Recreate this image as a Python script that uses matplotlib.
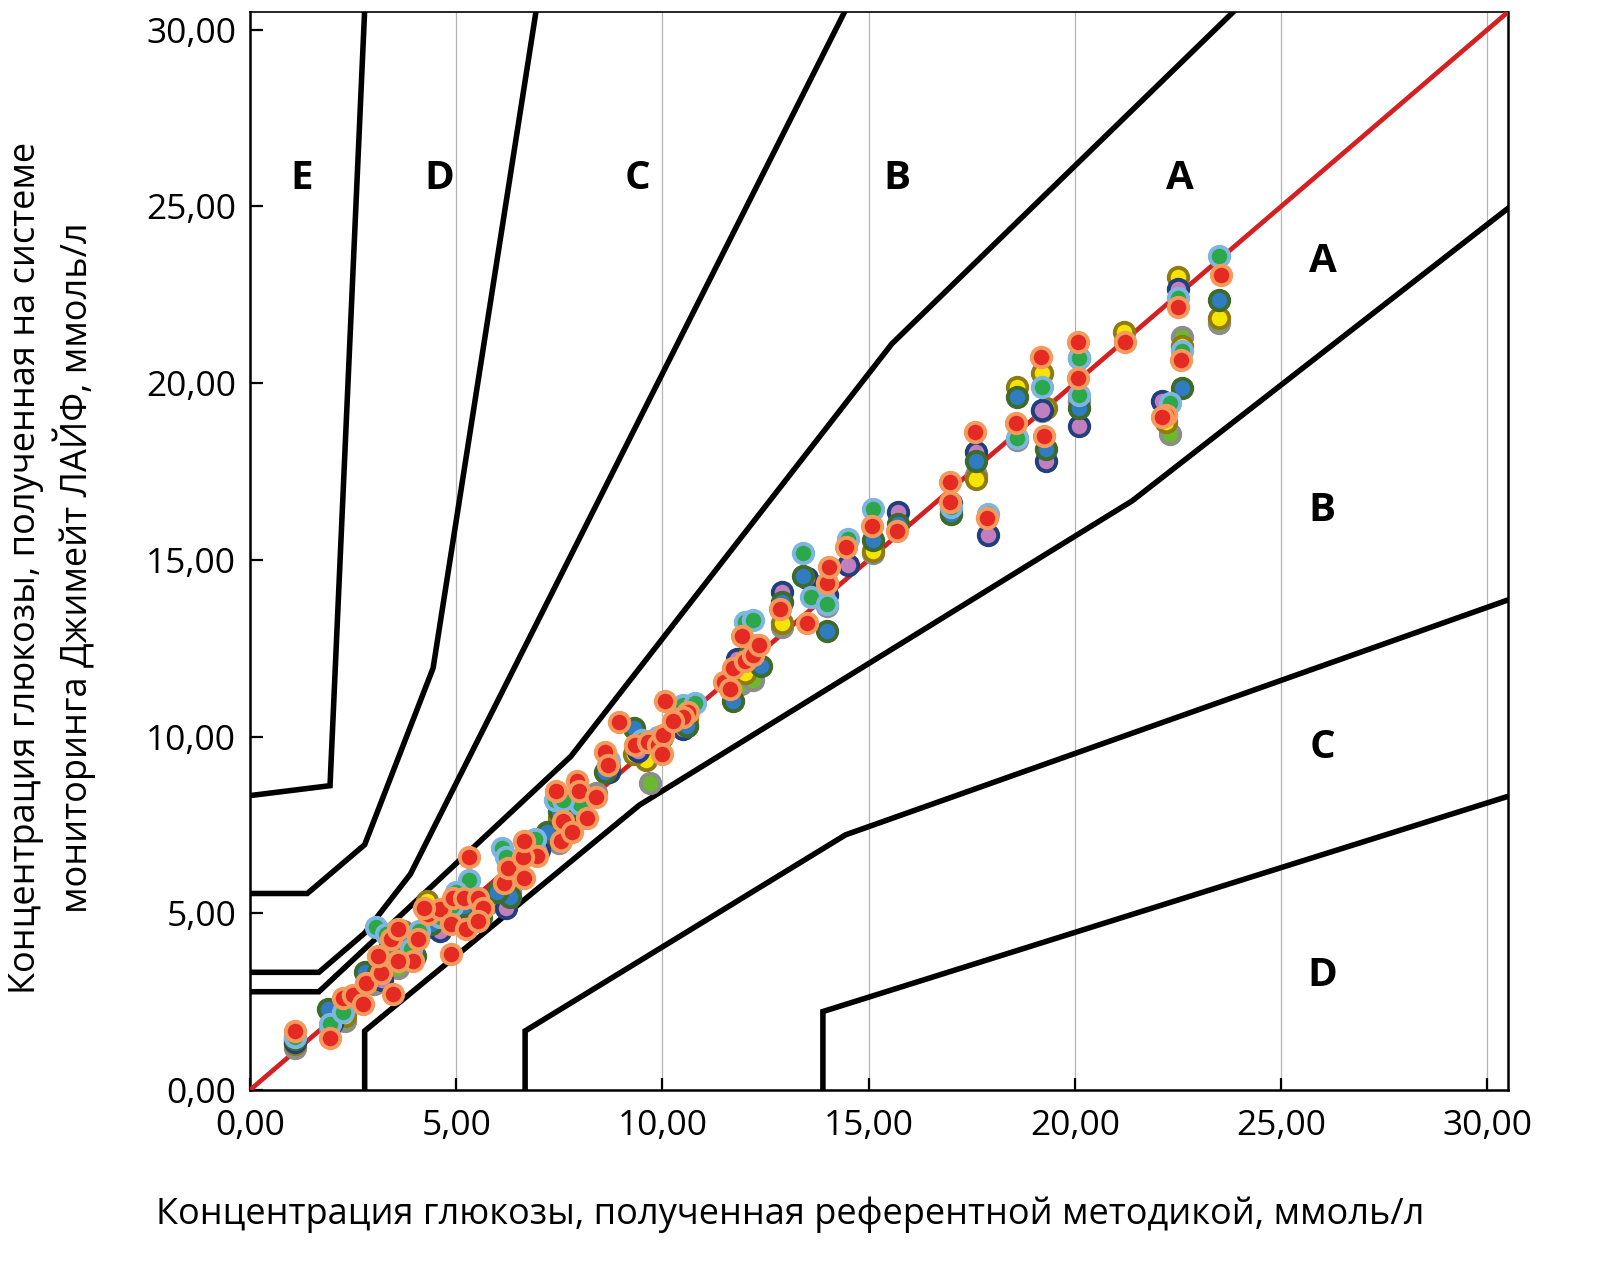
import matplotlib
matplotlib.use("Agg")
import matplotlib.pyplot as plt

plt.rcParams["font.family"] = ["Open Sans", "DejaVu Sans"]

# Parkes error grid boundaries (type 1), mmol/l
ab_upper_x = [0, 1.67, 7.78, 15.56, 23.89]
ab_upper_y = [2.78, 2.78, 9.44, 21.11, 30.56]
bc_upper_x = [0, 1.67, 2.78, 3.89, 14.44]
bc_upper_y = [3.33, 3.33, 4.44, 6.11, 30.56]
cd_upper_x = [0, 1.39, 2.78, 4.44, 6.94]
cd_upper_y = [5.56, 5.56, 6.94, 11.94, 30.56]
de_upper_x = [0, 1.94, 2.78]
de_upper_y = [8.33, 8.61, 30.56]
ab_lower_x = [2.78, 2.78, 9.44, 21.39, 30.56]
ab_lower_y = [0, 1.67, 8.06, 16.67, 25.0]
bc_lower_x = [6.67, 6.67, 14.44, 30.56]
bc_lower_y = [0, 1.67, 7.22, 13.89]
cd_lower_x = [13.89, 13.89, 30.56]
cd_lower_y = [0, 2.22, 8.33]

# measured points, one list pair per series
lg_x = [1.1, 1.95, 2.3, 3.0, 3.6, 4.4, 5.2, 6.3, 6.9, 7.5, 8.4, 9.7, 10.6, 11.9, 12.9, 14.0,
        15.1, 17.0, 17.6, 18.6, 19.2, 20.1, 22.3, 22.6, 23.5, 3.4, 5.8, 7.9, 12.2]
lg_y = [1.2, 1.75, 1.95, 3.0, 3.45, 4.6, 4.9, 5.6, 6.8, 7.0, 8.4, 8.7, 10.3, 11.5, 13.1, 13.7,
        15.2, 16.3, 17.4, 18.4, 19.2, 19.5, 18.55, 21.3, 21.7, 3.9, 5.3, 7.6, 11.6]

ye_x = [1.1, 2.3, 3.1, 4.3, 5.0, 6.3, 7.0, 7.5, 8.7, 9.6, 10.6, 12.0, 12.9, 13.9, 15.1, 17.0,
        17.6, 18.6, 19.2, 19.3, 20.1, 21.2, 22.2, 22.5, 22.6, 23.5, 3.7, 9.3]
ye_y = [1.3, 2.1, 3.5, 5.35, 5.1, 6.0, 6.9, 7.7, 9.2, 9.35, 10.5, 11.8, 13.2, 14.1, 15.25, 16.4,
        17.3, 19.9, 20.3, 19.3, 20.7, 21.45, 18.9, 23.0, 21.05, 21.85, 4.5, 9.5]

pu_x = [1.1, 2.0, 3.2, 3.9, 4.6, 5.3, 6.2, 7.0, 7.8, 9.4, 10.5, 11.8, 12.9, 13.5, 14.0, 14.5,
        15.7, 17.0, 17.6, 17.9, 19.2, 19.3, 20.1, 22.1, 22.5, 8.7, 12.1, 3.5]
pu_y = [1.35, 1.9, 3.1, 3.7, 4.5, 4.8, 5.15, 6.8, 7.9, 9.6, 10.2, 12.2, 14.1, 14.5, 14.0, 14.85,
        16.35, 16.6, 18.05, 15.7, 19.25, 17.8, 18.8, 19.5, 22.65, 9.0, 12.4, 4.0]

bl_x = [1.1, 1.9, 2.8, 3.1, 3.4, 4.0, 4.8, 5.6, 6.3, 6.8, 7.2, 7.9, 8.6, 9.3, 10.0, 10.6, 11.7,
        12.1, 12.4, 13.4, 14.0, 15.1, 15.7, 17.0, 17.6, 18.6, 19.3, 20.1, 22.6, 23.5,
        3.7, 4.4, 5.2, 6.0, 7.5, 9.8, 12.9]
bl_y = [1.45, 2.3, 3.35, 3.3, 4.1, 3.8, 5.0, 4.9, 5.45, 6.9, 7.3, 8.0, 9.0, 10.25, 10.0, 10.3, 11.0,
        12.3, 12.0, 14.55, 13.0, 15.55, 16.0, 16.3, 17.8, 19.6, 18.15, 19.3, 19.85, 22.35,
        4.4, 4.7, 5.2, 5.6, 7.9, 9.9, 13.8]

gr_x = [1.1, 1.95, 2.25, 3.05, 3.5, 4.1, 4.9, 5.3, 6.1, 6.9, 7.4, 8.0, 8.7, 9.5, 10.5, 10.8, 12.0,
        12.2, 13.4, 13.6, 14.0, 14.5, 15.1, 17.0, 17.9, 18.6, 19.2, 20.1, 20.1, 22.3, 22.5, 22.6, 23.5,
        3.3, 3.9, 4.6, 5.0, 5.5, 6.2, 7.6, 9.9, 10.3, 12.3]
gr_y = [1.5, 1.86, 2.2, 4.6, 3.9, 4.5, 5.2, 5.95, 6.85, 7.1, 8.2, 8.1, 9.3, 9.9, 10.9, 10.95, 13.25,
        13.3, 15.2, 13.95, 13.75, 15.6, 16.45, 16.5, 16.3, 18.45, 19.9, 20.7, 19.65, 19.45, 22.4, 20.9, 23.6,
        4.4, 4.0, 4.9, 5.6, 5.4, 6.6, 8.2, 10.0, 10.5, 12.6]

rd_x = [1.1, 1.93, 2.26, 2.5, 2.74, 2.82, 3.18, 3.1, 3.46, 3.43, 3.59, 4.07, 3.95, 3.59, 4.31, 4.6,
        4.23, 4.92, 5.2, 5.52, 5.64, 4.88, 5.24, 5.52, 4.88, 5.3, 6.17, 6.25, 6.65, 6.97, 6.61, 6.65,
        7.42, 7.94, 7.98, 8.38, 8.18, 7.58, 7.54, 7.8, 8.6, 8.68, 8.95, 9.33, 9.65, 9.9, 10.02, 9.98,
        10.06, 10.62, 10.5, 10.25, 11.48, 11.64, 11.71, 12.0, 11.93, 12.2, 12.35, 12.86, 13.5, 13.99,
        14.03, 14.46, 15.08, 15.69, 16.98, 16.98, 17.58, 17.86, 18.56, 19.18, 19.26, 20.08, 20.08,
        21.21, 22.2, 22.1, 22.5, 22.58, 23.55]
rd_y = [1.67, 1.48, 2.61, 2.7, 2.42, 3.04, 3.32, 3.79, 2.71, 4.26, 4.55, 4.26, 3.65, 3.65, 4.97, 5.11,
        5.16, 5.44, 5.44, 5.44, 5.16, 4.69, 4.55, 4.78, 3.84, 6.58, 5.87, 6.29, 6.0, 6.62, 6.58, 7.05,
        8.45, 8.75, 8.45, 8.3, 7.7, 7.6, 7.05, 7.3, 9.55, 9.2, 10.4, 9.75, 9.85, 9.75, 10.05, 9.5,
        11.0, 10.7, 10.55, 10.45, 11.55, 11.35, 11.95, 12.15, 12.85, 12.3, 12.6, 13.6, 13.2, 14.35,
        14.8, 15.35, 15.96, 15.82, 16.65, 17.2, 18.63, 16.18, 18.87, 20.75, 18.49, 21.15, 20.15,
        21.15, 19.1, 19.05, 22.15, 20.65, 23.05]

zone_top = ["E", "D", "C", "B", "A"]
zone_top_x = [1.26, 4.6, 9.39, 15.68, 22.55]
zone_right = ["A", "B", "C", "D"]
zone_right_y = [23.45, 16.4, 9.7, 3.25]

fig = plt.figure(figsize=(15.97, 12.66), dpi=100)
ax = fig.add_axes([250 / 1597, 1 - 1090 / 1266, 1258 / 1597, 1078 / 1266])

lim = 30.5
ax.set_xlim(0, lim)
ax.set_ylim(0, lim)

for gx in [5, 10, 15, 20, 25, 30]:
    ax.axvline(gx, color="#b4b4b4", lw=0.9, zorder=0)

for bx, by in [(ab_upper_x, ab_upper_y), (bc_upper_x, bc_upper_y), (cd_upper_x, cd_upper_y),
               (de_upper_x, de_upper_y), (ab_lower_x, ab_lower_y), (bc_lower_x, bc_lower_y),
               (cd_lower_x, cd_lower_y)]:
    ax.plot(bx, by, color="black", lw=4.0, solid_joinstyle="miter", zorder=2)

ax.plot([0, lim], [0, lim], color="#d42020", lw=3.4, zorder=3)

series = [
    (lg_x, lg_y, "#6cb92f", "#8c8c8c"),
    (ye_x, ye_y, "#f6e300", "#8e7b12"),
    (pu_x, pu_y, "#c27fbf", "#203f7e"),
    (bl_x, bl_y, "#2f7cc0", "#3e6a2a"),
    (gr_x, gr_y, "#2aa84a", "#7fb5e1"),
    (rd_x, rd_y, "#e42a22", "#f49a5c"),
]
for i, (sx, sy, face, edge) in enumerate(series):
    ax.plot(sx, sy, "o", ms=14.0, mfc=face, mec=edge, mew=2.8, ls="none", zorder=4 + i)

for lab, zx in zip(zone_top, zone_top_x):
    ax.text(zx, 25.8, lab, fontsize=29, fontweight="bold", ha="center", va="center")
for lab, zy in zip(zone_right, zone_right_y):
    ax.text(26.0, zy, lab, fontsize=29, fontweight="bold", ha="center", va="center")

ticks = [0, 5, 10, 15, 20, 25, 30]
tick_labels = [f"{t:.2f}".replace(".", ",") for t in ticks]
ax.set_xticks(ticks)
ax.set_xticklabels(tick_labels)
ax.set_yticks(ticks)
ax.set_yticklabels(tick_labels)
ax.tick_params(axis="both", direction="in", length=9, width=1.6, labelsize=25.5)
ax.tick_params(axis="x", pad=14)
ax.tick_params(axis="y", pad=10)

for side in ["left", "bottom", "right"]:
    ax.spines[side].set_linewidth(1.8)
ax.spines["top"].set_linewidth(1.2)

fig.text(790 / 1597, 1 - 1215 / 1266,
         "Концентрация глюкозы, полученная референтной методикой, ммоль/л",
         fontsize=26, ha="center", va="center")
fig.text(52 / 1597, 1 - 568 / 1266,
         "Концентрация глюкозы, полученная на системе\nмониторинга Джимейт ЛАЙФ, ммоль/л",
         fontsize=26, ha="center", va="center", rotation=90, multialignment="center",
         linespacing=1.25)

fig.savefig("out.png", dpi=100)
